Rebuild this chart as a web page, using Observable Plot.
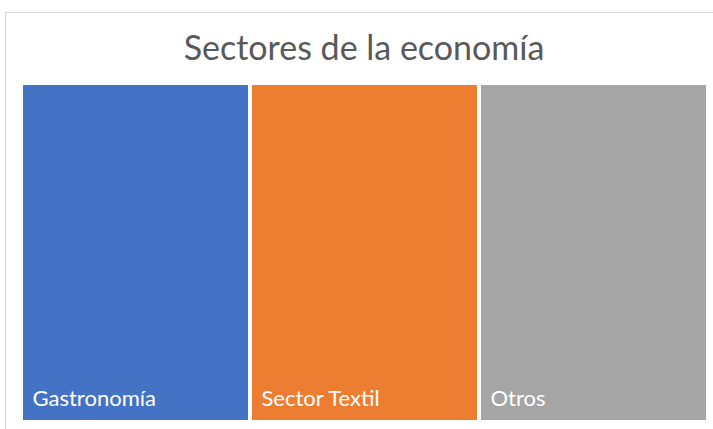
<!DOCTYPE html>
<html><head><meta charset="utf-8">
<script src="https://cdn.jsdelivr.net/npm/d3@7"></script>
<script src="https://cdn.jsdelivr.net/npm/@observablehq/plot@0.6"></script>
<style>
body{margin:0;background:#fff;width:713px;height:429px;overflow:hidden;position:relative;font-family:Lato,"Open Sans",sans-serif}
#frame{position:absolute;left:5px;top:12px;width:720px;height:440px;border:1px solid #d9d9d9;box-sizing:border-box}
#title{position:absolute;left:5px;width:718px;top:27px;text-align:center;font-size:34px;line-height:1.2;color:#595959;font-family:Lato,sans-serif}
#chart{position:absolute;left:0;top:75px}
</style></head><body>
<div id="frame"></div>
<div id="title">Sectores de la economía</div>
<div id="chart"></div>
<script>
const categories = ["Gastronomía", "Sector Textil", "Otros"];
const values = [1, 1, 1];
const colors = ["#4472C4", "#ED7D31", "#A5A5A5"];

const ends = Array.from(d3.cumsum(values));
const data = categories.map((c, i) => ({name: c, value: values[i], x1: ends[i] - values[i], x2: ends[i]}));
const total = d3.sum(values);

const plot = Plot.plot({
  width: 713, height: 354,
  marginLeft: 21, marginRight: 5, marginTop: 10, marginBottom: 9,
  x: {domain: [0, total], axis: null},
  y: {domain: [0, 1], axis: null},
  color: {domain: categories, range: colors},
  style: {background: "transparent", fontFamily: "Lato, sans-serif"},
  marks: [
    Plot.rect(data, {x1: "x1", x2: "x2", y1: 0, y2: 1, fill: "name", insetLeft: 2, insetRight: 2}),
    Plot.text(data, {x: "x1", y: 0, text: "name", textAnchor: "start", dx: 11, dy: -22, fill: "white", fontSize: 22})
  ]
});
document.getElementById("chart").appendChild(plot);
</script>
</body></html>
